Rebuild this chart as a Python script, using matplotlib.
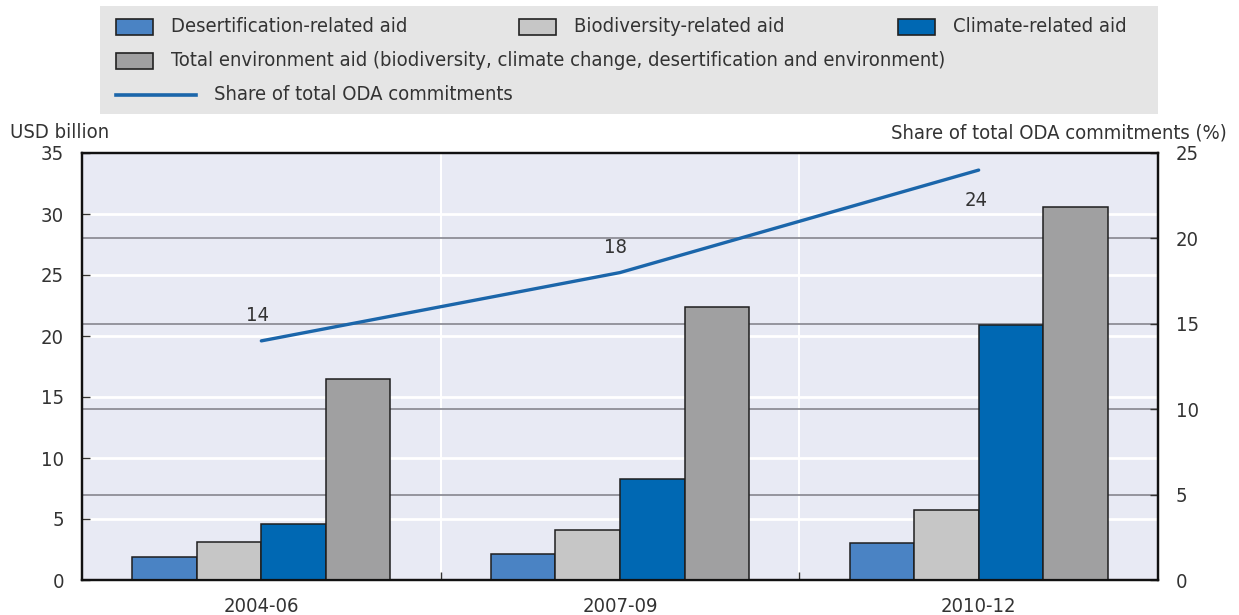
import numpy as np
import matplotlib
matplotlib.use("Agg")
import matplotlib.pyplot as plt
from matplotlib.patches import Rectangle
from matplotlib.lines import Line2D

plt.rcParams['font.family'] = ['DejaVu Sans']
plt.rcParams['font.stretch'] = 'condensed'

periods = ["2004-06", "2007-09", "2010-12"]
desert = [1.9, 2.1, 3.0]
biodiv = [3.1, 4.1, 5.7]
climate = [4.6, 8.3, 20.9]
total = [16.5, 22.4, 30.6]
share = [14, 18, 24]

names = ["Desertification-related aid", "Biodiversity-related aid", "Climate-related aid",
         "Total environment aid (biodiversity, climate change, desertification and environment)"]
line_name = "Share of total ODA commitments"
colors = ["#4a83c4", "#c6c6c6", "#0068b3", "#a0a0a1"]
line_color = "#1b66aa"
txt = "#333333"
fs = 14.5

W, H = 1239, 615
fig = plt.figure(figsize=(W / 100, H / 100), dpi=100)


def fx(px):
    return px / W


def fy(py):
    return 1 - py / H


ax = fig.add_axes([fx(82), fy(580), fx(1158) - fx(82), fy(153) - fy(580)])
ax.set_facecolor("#e8eaf4")
ax2 = ax.twinx()

x = np.arange(len(periods))
width = 0.18
for i, vals in enumerate([desert, biodiv, climate, total]):
    ax.bar(x + (i - 1.5) * width, vals, width, color=colors[i],
           edgecolor="#1e1e1e", linewidth=1.1, zorder=3)

ax.set_xlim(-0.5, 2.5)
ax.set_ylim(0, 35)
ax2.set_ylim(0, 25)

# white grid for the left scale, grey grid for the right scale
for v in range(5, 35, 5):
    ax.axhline(v, color="white", lw=2, zorder=1)
for v in range(5, 25, 5):
    ax.axhline(v * 35 / 25, color="#8e8e96", lw=1.3, zorder=1.5)
for v in [0.5, 1.5]:
    ax.axvline(v, color="white", lw=1.5, zorder=1)

ax2.plot(x, share, color=line_color, lw=2.4, zorder=4, solid_capstyle="round")
offsets = [(-3, 18), (-3, 18), (-2, -22)]
for xi, s, off in zip(x, share, offsets):
    ax2.annotate(str(s), (xi, s), xytext=off, textcoords="offset points",
                 ha="center", va="center", fontsize=fs, color=txt)

ax.set_yticks(range(0, 40, 5))
ax2.set_yticks(range(0, 30, 5))
ax.set_xticks(x)
ax.set_xticklabels(periods)
ax.set_xticks([0.5, 1.5], minor=True)
ax.tick_params(axis="x", which="major", length=0, pad=12, labelsize=fs, labelcolor=txt)
ax.tick_params(axis="x", which="minor", direction="in", length=6, width=1, color="#333333")
ax.tick_params(axis="y", direction="in", length=6, width=1, color="#333333",
               pad=13, labelsize=fs, labelcolor=txt)
ax2.tick_params(axis="y", direction="in", length=6, width=1, color="#333333",
                pad=13, labelsize=fs, labelcolor=txt)
for a in (ax, ax2):
    for sp in a.spines.values():
        sp.set_color("#111111")
        sp.set_linewidth(1.6)
ax2.patch.set_visible(False)

fig.text(fx(10), fy(132), "USD billion", ha="left", va="center", fontsize=fs, color=txt)
fig.text(fx(1227), fy(133), "Share of total ODA commitments (%)", ha="right", va="center",
         fontsize=fs, color=txt)

# legend panel
fig.add_artist(Rectangle((fx(100), fy(114)), fx(1158) - fx(100), fy(6) - fy(114),
                         transform=fig.transFigure, facecolor="#e5e5e5", edgecolor="none"))
entries = [(0, 116, 27), (1, 519, 27), (2, 898, 27), (3, 116, 61)]
for idx, px, py in entries:
    fig.add_artist(Rectangle((fx(px), fy(py + 8)), fx(37), 16 / H, transform=fig.transFigure,
                             facecolor=colors[idx], edgecolor="#222222", lw=1.2))
    fig.text(fx(px + 55), fy(py), names[idx], ha="left", va="center", fontsize=fs, color=txt)
fig.add_artist(Line2D([fx(116), fx(196)], [fy(95), fy(95)], transform=fig.transFigure,
                      color=line_color, lw=2.6))
fig.text(fx(214), fy(95), line_name, ha="left", va="center", fontsize=fs, color=txt)

fig.savefig("out.png", dpi=100)
